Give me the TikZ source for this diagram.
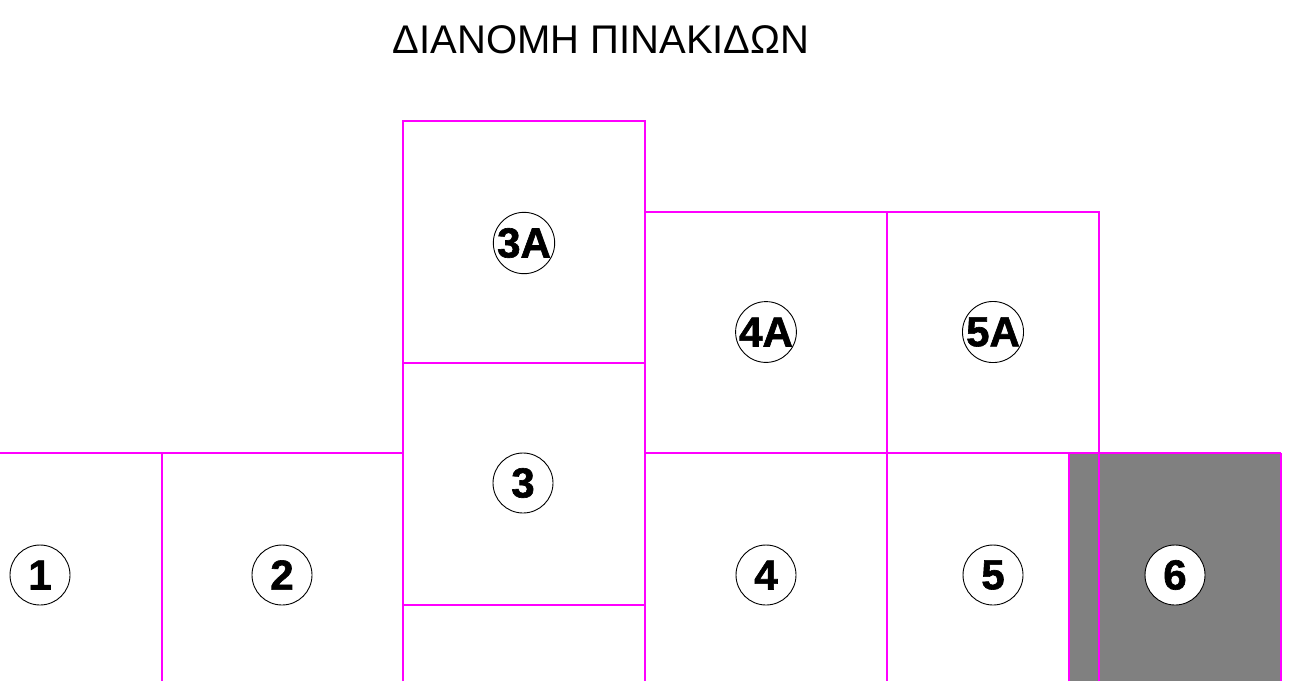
\documentclass[tikz,border=0pt]{standalone}
\usepackage{fontspec}
\setmainfont{Liberation Sans}
\newfontfamily\signfont[FakeBold=1.5]{Liberation Sans Bold}
\usepackage{tikz}
\definecolor{plotline}{RGB}{255,0,255}
\definecolor{plotgray}{RGB}{128,128,128}
\tikzstyle{lot} = [draw=plotline,line width=2pt]
\tikzstyle{sign} = [draw=black,fill=white,circle,line width=0.9pt,inner sep=0mm,minimum size=60pt,font=\fontsize{42}{42}\signfont]

\begin{document}
\begin{tikzpicture}[x=1pt,y=-1pt]
\useasboundingbox (0,0) rectangle (1292,681);
\draw(601,40) node (title) {\fontsize{40}{40}\selectfont ΔΙΑΝΟΜΗ ΠΙΝΑΚΙΔΩΝ};

% shaded lot
\fill[plotgray] (1069,453) rectangle (1281,681);

% lot boundaries
\draw[lot] (0,453) -- (403,453);
\draw[lot] (162,453) -- (162,681);
\draw[lot] (403,681) -- (403,121) -- (645,121) -- (645,681);
\draw[lot] (403,363) -- (645,363);
\draw[lot] (403,605) -- (645,605);
\draw[lot] (645,212) -- (1099,212) -- (1099,681);
\draw[lot] (887,212) -- (887,681);
\draw[lot] (645,453) -- (1281,453);
\draw[lot] (1069,681) -- (1069,453);
\draw[lot] (1281,453) -- (1281,681);

% signs
\draw(40,575) node[sign] (s1) {1};
\draw(282,575) node[sign] (s2) {2};
\draw(523,483) node[sign] (s3) {3};
\draw(524,243) node[sign] (s3a) {3A};
\draw(766,332) node[sign] (s4a) {4A};
\draw(993,332) node[sign] (s5a) {5A};
\draw(766,575) node[sign] (s4) {4};
\draw(993,575) node[sign] (s5) {5};
\draw(1175,575) node[sign] (s6) {6};

\end{tikzpicture}
\end{document}
